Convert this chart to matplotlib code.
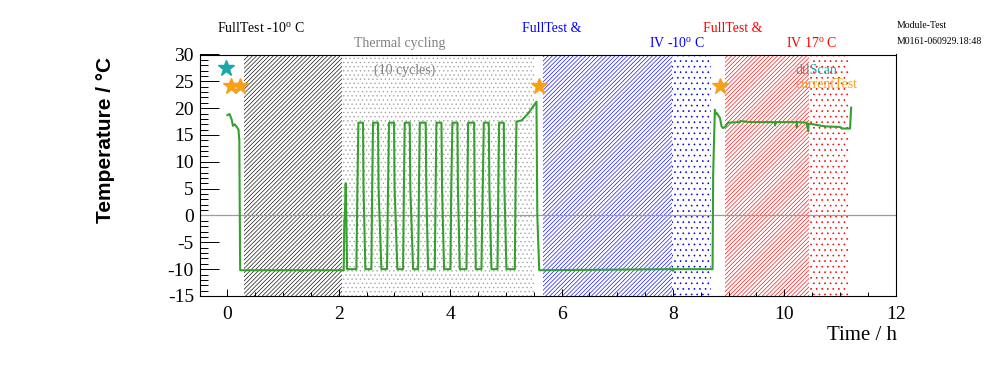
import numpy as np
import matplotlib
matplotlib.use("Agg")
from matplotlib import pyplot as plt

plt.rcParams['font.family'] = ['Liberation Serif', 'DejaVu Serif']
plt.rcParams['mathtext.fontset'] = 'custom'
plt.rcParams['mathtext.rm'] = 'Liberation Serif'
plt.rcParams['mathtext.it'] = 'Liberation Serif:italic'
plt.rcParams['axes.unicode_minus'] = False
plt.rcParams['hatch.linewidth'] = 0.45

# temperature log (time in h, temperature in deg C)
time_h = [0.0, 0.04, 0.08, 0.10, 0.13, 0.17, 0.20, 0.215, 0.23,
          1.30, 1.31, 1.32, 2.089,
          2.10, 2.11, 2.125, 2.135, 2.15, 2.167,
          2.317, 2.335, 2.353, 2.436, 2.445, 2.478,
          2.586, 2.60, 2.616, 2.705, 2.715, 2.766,
          2.867, 2.885, 2.903, 2.993, 3.003, 3.053,
          3.155, 3.17, 3.185, 3.275, 3.285, 3.335,
          3.425, 3.44, 3.455, 3.562, 3.572, 3.604,
          3.724, 3.74, 3.754, 3.844, 3.855, 3.891,
          4.006, 4.02, 4.041, 4.131, 4.14, 4.173,
          4.293, 4.31, 4.323, 4.431, 4.44, 4.461,
          4.562, 4.585, 4.605, 4.694, 4.705, 4.742,
          4.850, 4.865, 4.879, 4.963, 4.975, 5.011,
          5.161, 5.175, 5.191, 5.281, 5.40, 5.550, 5.565, 5.60,
          7.99, 8.0, 8.01, 8.712, 8.723, 8.753, 8.770, 8.784, 8.844, 8.874, 8.90, 8.934,
          8.993, 9.20, 9.21, 9.40, 9.83, 9.835, 9.84, 10.22, 10.225, 10.23, 10.40,
          10.43, 10.435, 10.46, 10.67, 10.75, 11.0, 11.03, 11.18, 11.20]
temp_c = [18.7, 18.9, 17.8, 16.7, 17.0, 16.5, 16.0, 14.0, -10.2,
          -10.2, -10.4, -10.2, -10.2,
          -1.0, 0.0, 6.0, 0.5, -10.0, -10.0,
          -10.0, 5.0, 17.3, 17.3, 5.0, -10.0,
          -10.0, 5.0, 17.3, 17.3, 5.0, -10.0,
          -10.0, 5.0, 17.3, 17.3, 5.0, -10.0,
          -10.0, 5.0, 17.3, 17.3, 5.0, -10.0,
          -10.0, 5.0, 17.3, 17.3, 5.0, -10.0,
          -10.0, 5.0, 17.3, 17.3, 5.0, -10.0,
          -10.0, 5.0, 17.3, 17.3, 5.0, -10.0,
          -10.0, 5.0, 17.3, 17.3, 5.0, -10.0,
          -10.0, 5.0, 17.3, 17.3, 5.0, -10.0,
          -10.0, 5.0, 17.3, 17.3, 5.0, -10.0,
          -10.0, 5.0, 17.5, 17.7, 19.0, 21.2, 0.0, -10.2,
          -10.0, -10.3, -10.0, -10.0, 7.9, 19.7, 18.9, 19.1, 18.2, 16.6, 16.3, 16.5,
          17.3, 17.4, 17.6, 17.4, 17.4, 16.8, 17.4, 17.4, 16.4, 17.4, 17.3,
          15.7, 17.1, 17.1, 16.7, 16.6, 16.5, 16.2, 16.2, 20.1]

# shaded test phases
span_start = [0.30, 2.05, 5.67, 7.98, 8.93, 10.45]
span_end = [2.05, 5.50, 7.98, 8.68, 10.45, 11.17]
span_color = ['black', '#a0a0a0', '#0000ff', '#0000ff', '#ff0000', '#ff0000']
span_hatch = ['/' * 8, '....', '/' * 8, '...', '/' * 8, '...']

# markers for dtlScan / currentTest
dtl_t = [-0.02]
dtl_T = [27.5]
cur_t = [0.07, 0.22, 5.60, 8.84]
cur_T = [24.1, 24.1, 24.1, 24.1]

W, H = 996, 372
fig = plt.figure(figsize=(W / 100, H / 100), dpi=100)
ax = fig.add_axes([199.5 / W, 1 - 296 / H, (895.7 - 199.5) / W, (296 - 54.5) / H])

for x0, x1, c, h in zip(span_start, span_end, span_color, span_hatch):
    ax.axvspan(x0, x1, facecolor='none', edgecolor=c, hatch=h, linewidth=0, zorder=1)

ax.axhline(0, color='#a39b90', linewidth=0.9, zorder=2)
ax.plot(time_h, temp_c, color='#35a02d', linewidth=1.5, zorder=3)
ax.plot(dtl_t, dtl_T, linestyle='none', marker='*', markersize=12,
        color='#1ba8a8', zorder=4, clip_on=False)
ax.plot(cur_t, cur_T, linestyle='none', marker='*', markersize=12,
        color='#f8a01a', zorder=4, clip_on=False)

ax.set_xlim(-0.5, 12)
ax.set_ylim(-15, 30)
ax.set_xticks(np.arange(0, 13, 2))
ax.set_xticks(np.arange(0, 12.01, 0.5), minor=True)
ax.set_yticks(np.arange(-15, 31, 5))
ax.set_yticks(np.arange(-15, 31, 1), minor=True)
ax.tick_params(axis='both', which='both', direction='in', labelsize=14,
               top=False, right=False, width=0.7)
ax.tick_params(axis='y', which='major', length=13.5, pad=4)
ax.tick_params(axis='y', which='minor', length=5.5)
ax.tick_params(axis='x', which='major', length=5, pad=7)
ax.tick_params(axis='x', which='minor', length=3)
for s in ax.spines.values():
    s.set_linewidth(0.8)

fig.text(105 / W, 1 - 57 / H, 'Temperature / °C', rotation=90, ha='center', va='top',
         fontsize=15, fontweight='bold', family=['Liberation Sans', 'DejaVu Sans'])
fig.text(897 / W, 1 - 335 / H, 'Time / h', ha='right', va='center', fontsize=15)

def label(px, py, s, color, size=10):
    fig.text(px / W, 1 - py / H, s, ha='left', va='center', color=color, fontsize=size)

label(217, 28, r'FullTest -10$^{\rm o}$ C', 'black')
label(354, 44, 'Thermal cycling', '#808080')
label(374, 70, '(10 cycles)', '#808080')
label(522, 28, 'FullTest &', '#0000ff')
label(649, 43, r'IV -10$^{\rm o}$ C', '#0000ff')
label(703, 28, 'FullTest &', '#ff0000')
label(786, 43, r'IV 17$^{\rm o}$ C', '#ff0000')
label(796, 70, 'dtlScan', '#1ba8a8')
label(796, 85, 'currentTest', '#f8a01a')
label(897, 26, 'Module-Test', 'black', 7)
label(897, 41, 'M0161-060929.18:48', 'black', 7)

fig.savefig('out.png', dpi=100)
